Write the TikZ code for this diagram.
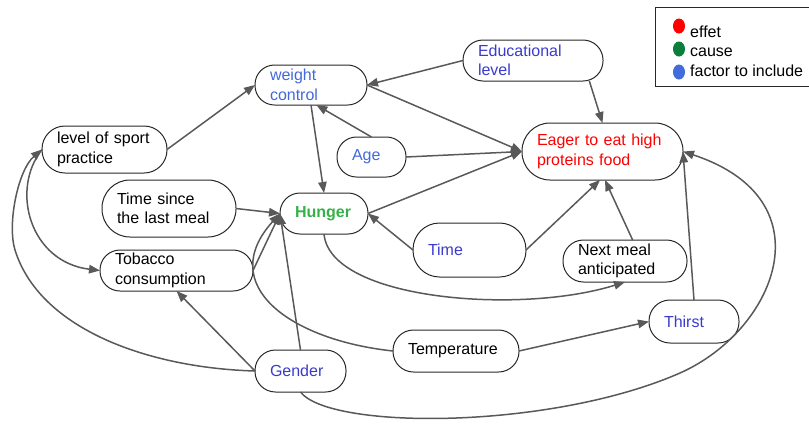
\documentclass[tikz,border=0pt]{standalone}
\usepackage{fontspec}
\setmainfont{Liberation Sans}
\usetikzlibrary{arrows.meta}
\definecolor{linegray}{RGB}{89,89,89}
\definecolor{bordergray}{RGB}{40,40,40}
\definecolor{blueA}{RGB}{66,104,222}
\definecolor{blueB}{RGB}{58,58,206}
\definecolor{greenT}{RGB}{52,178,72}
\definecolor{greenD}{RGB}{10,126,58}
\definecolor{blueD}{RGB}{66,108,220}
\newcommand{\mybox}[7]{%
  \pgfmathsetmacro\mybw{#4-#2}%
  \pgfmathsetmacro\mybh{#5-#3}%
  \pgfmathsetmacro\mybtw{#4-#2-30}%
  \pgfmathsetmacro\mybr{(#5-#3)/2-0.5}%
  \pgfmathsetmacro\mybcx{(#2+#4)/2}%
  \pgfmathsetmacro\mybcy{(#3+#5)/2}%
  \node[nbox, minimum width=\mybw pt, minimum height=\mybh pt, text width=\mybtw pt, rounded corners=\mybr pt, text=#6] (#1) at (\mybcx,\mybcy) {#7};}
\tikzset{
  nbox/.style={draw=bordergray, line width=1pt, align=left, inner xsep=15pt, inner ysep=0pt, outer sep=0pt, font=\fontsize{16}{19.5}\selectfont},
  arr/.style={draw=linegray, line width=1.5pt, -{Triangle[length=11pt,width=8.5pt]}},
  legtext/.style={anchor=base west, inner sep=0pt, font=\fontsize{16}{19.5}\selectfont}
}
\begin{document}
\begin{tikzpicture}[x=1pt,y=-1pt]
\useasboundingbox (0,0) rectangle (809,424);
% legend
\draw[bordergray, line width=1pt] (655,7) rectangle (812,86);
\fill[red] (679,26) ellipse [x radius=6, y radius=7.5];
\fill[greenD] (679,49) ellipse [x radius=6, y radius=7.5];
\fill[blueD] (679,72) ellipse [x radius=6, y radius=7.5];
\node[legtext] (leffet) at (690,37.5) {effet};
\node[legtext] (lcause) at (690,56.5) {cause};
\node[legtext] (lfactor) at (690,76) {factor to include};
% nodes
\mybox{wc}{255}{65}{367}{105}{blueA}{weight\\control}
\mybox{edu}{463}{40}{603}{81}{blueB}{Educational\\level}
\mybox{Eager}{522}{123}{683}{180}{red}{Eager to eat high\\proteins food}
\mybox{sport}{42}{126}{167}{173}{black}{level of sport\\practice}
\mybox{Age}{337}{137}{406}{177}{blueA}{Age}
\mybox{TS}{102}{180}{236}{237}{black}{Time since\\the last meal}
\mybox{Hunger}{280}{193}{368}{234}{greenT}{\textbf{Hunger}}
\mybox{Time}{413}{223}{526}{277}{blueB}{Time}
\mybox{Next}{563}{240}{687}{282}{black}{Next meal\\anticipated}
\mybox{Tob}{100}{250}{253}{291}{black}{Tobacco\\consumption}
\mybox{Thirst}{649}{300}{739}{343}{blueB}{Thirst}
\mybox{Temp}{393}{330}{519}{372}{black}{Temperature}
\mybox{Gender}{255}{350}{346}{392}{blueB}{Gender}
% connectors
\draw[arr] (sport.east) -- (wc.west);
\draw[arr] (edu.west) -- (wc.east);
\draw[arr] (wc.east) -- (Eager.west);
\draw[arr] (edu.-20) -- (Eager.north);
\draw[arr] (Age.north) -- (wc.285);
\draw[arr] (Age.east) -- (Eager.west);
\draw[arr] (wc.south) -- (Hunger.north);
\draw[arr] (Hunger.east) -- (Eager.west);
\draw[arr] (Time.west) -- (Hunger.east);
\draw[arr] (Time.east) -- (Eager.265);
\draw[arr] (Next.70) -- (Eager.275);
\draw[arr] (Thirst.north) -- (Eager.east);
\draw[arr] (Gender.south) .. controls (330,430) and (550,430) .. (680,373) .. controls (775,331) and (830,200) .. (Eager.east);
\draw[arr] (Hunger.south) .. controls (330,300) and (520,315) .. (Next.south);
\draw[arr] (TS.east) -- (Hunger.west);
\draw[arr] (Tob.east) -- (Hunger.west);
\draw[arr] (Temp.west) .. controls (290,340) and (215,285) .. (Hunger.west);
\draw[arr] (Gender.north) -- (Hunger.west);
\draw[arr] (Gender.west) -- (Tob.south);
\draw[arr] (Gender.west) .. controls (150,368) and (40,330) .. (15,250) .. controls (7,224) and (18,170) .. (sport.west);
\draw[arr] (sport.west) .. controls (10,190) and (30,262) .. (Tob.west);
\draw[arr] (Temp.east) -- (Thirst.west);
\end{tikzpicture}
\end{document}
